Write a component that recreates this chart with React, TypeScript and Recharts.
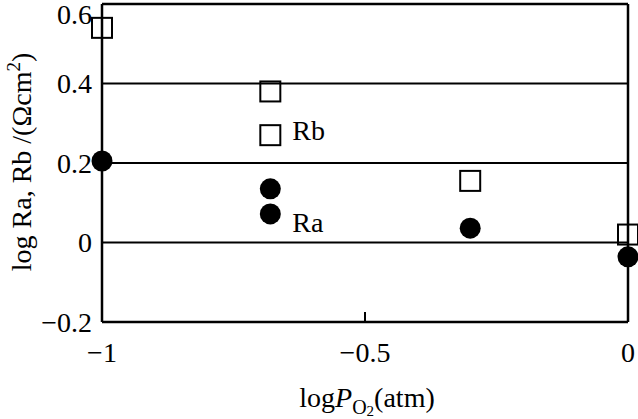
import React from 'react'
import { ScatterChart, Scatter, XAxis, YAxis, ReferenceLine, ReferenceDot } from 'recharts'

const logPO2 = [-1, -0.68, -0.68, -0.3, 0]
const logRb = [0.54, 0.38, 0.27, 0.155, 0.02]
const logRa = [0.205, 0.135, 0.072, 0.036, -0.036]

const xTicks = [-1, -0.5, 0]
const yTicks = [-0.2, 0, 0.2, 0.4, 0.6]
const gridValues = [0.4, 0.2, 0]

const seriesNames = ['Rb', 'Ra']
const labelIndex = 2

const FONT = '"Liberation Serif", "DejaVu Serif", serif'
const W = 638
const H = 419

const rbData = logPO2.map((x, i) => ({ x, y: logRb[i] }))
const raData = logPO2.map((x, i) => ({ x, y: logRa[i] }))

const fmt = (v: number) => (v < 0 ? '\u2212' + String(Math.abs(v)) : String(v))

const Square = (props: any) => {
  const { cx, cy } = props
  return <rect x={cx - 10} y={cy - 10} width={20} height={20} fill="none" stroke="#000" strokeWidth={2} />
}

const Dot = (props: any) => {
  const { cx, cy } = props
  return <circle cx={cx} cy={cy} r={10.5} fill="#000" />
}

const XTick = (props: any) => {
  const { x, y, payload } = props
  return (
    <text x={x} y={y + 32} textAnchor="middle" fontFamily={FONT} fontSize={28} fill="#000">
      {fmt(payload.value)}
    </text>
  )
}

// top label is pushed down a little so it stays inside the page
const YTick = (props: any) => {
  const { y, payload } = props
  const cy = Math.max(y, 14)
  return (
    <text x={92} y={cy + 9.5} textAnchor="end" fontFamily={FONT} fontSize={28} fill="#000">
      {fmt(payload.value)}
    </text>
  )
}

const XLabel = () => (
  <text x={367} y={407} textAnchor="middle" fontFamily={FONT} fontSize={28} fill="#000">
    log<tspan fontStyle="italic">P</tspan>
    <tspan fontSize={20} dy={7}>O</tspan>
    <tspan fontSize={15} dy={2}>2</tspan>
    <tspan dy={-9}>(atm)</tspan>
  </text>
)

const YLabel = () => (
  <text
    x={0}
    y={0}
    transform="translate(31 162) rotate(-90)"
    textAnchor="middle"
    fontFamily={FONT}
    fontSize={28}
    fill="#000"
  >
    log Ra, Rb /(Ωcm<tspan fontSize={19} dy={-11}>2</tspan>
    <tspan dy={11}>)</tspan>
  </text>
)

const seriesLabel = (text: string, dy: number) => (props: any) => {
  const vb = props.viewBox
  const cx = vb.x + vb.width / 2
  const cy = vb.y + vb.height / 2
  return (
    <text x={cx + 22} y={cy + dy} fontFamily={FONT} fontSize={28} fill="#000">
      {text}
    </text>
  )
}

export default function App() {
  return (
    <div style={{ position: 'absolute', left: 0, top: 0, width: W, height: H, background: '#fff' }}>
      <ScatterChart width={W} height={H} margin={{ top: 4, right: 10, bottom: 0, left: 0 }}>
        <XAxis
          type="number"
          dataKey="x"
          domain={[-1, 0]}
          ticks={xTicks}
          height={97}
          axisLine={false}
          tickLine={false}
          tick={<XTick />}
          label={<XLabel />}
        />
        <YAxis
          type="number"
          dataKey="y"
          domain={[-0.2, 0.6]}
          ticks={yTicks}
          width={102}
          axisLine={false}
          tickLine={false}
          tick={<YTick />}
          label={<YLabel />}
        />
        {gridValues.map((v) => (
          <ReferenceLine key={'g' + v} y={v} stroke="#000" strokeWidth={2} />
        ))}
        <ReferenceLine y={0.6} stroke="#000" strokeWidth={2.5} />
        <ReferenceLine y={-0.2} stroke="#000" strokeWidth={2.5} />
        <ReferenceLine x={-1} stroke="#000" strokeWidth={2.5} />
        <ReferenceLine x={0} stroke="#000" strokeWidth={2.5} />
        <ReferenceLine
          segment={[{ x: -0.5, y: -0.2 }, { x: -0.5, y: -0.175 }]}
          stroke="#000"
          strokeWidth={2}
        />
        <Scatter name={seriesNames[0]} data={rbData} shape={<Square />} isAnimationActive={false} />
        <Scatter name={seriesNames[1]} data={raData} shape={<Dot />} isAnimationActive={false} />
        <ReferenceDot
          x={logPO2[labelIndex]}
          y={logRb[labelIndex]}
          r={1}
          fill="none"
          stroke="none"
          label={seriesLabel(seriesNames[0], 5)}
        />
        <ReferenceDot
          x={logPO2[labelIndex]}
          y={logRa[labelIndex]}
          r={1}
          fill="none"
          stroke="none"
          label={seriesLabel(seriesNames[1], 18)}
        />
      </ScatterChart>
    </div>
  )
}
